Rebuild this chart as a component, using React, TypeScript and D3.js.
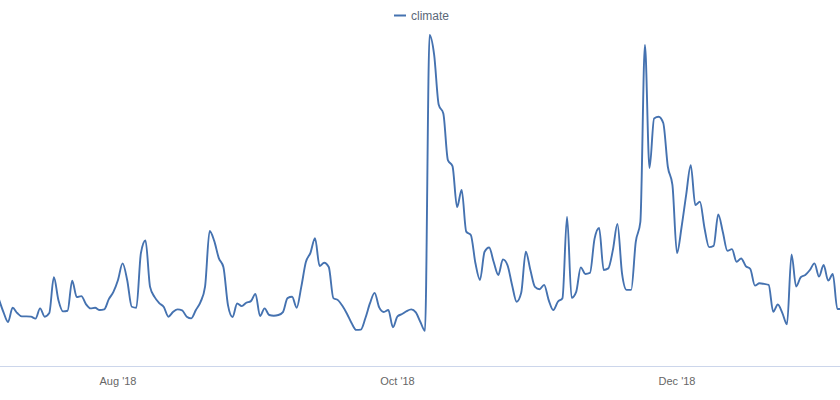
import React from "react";
import * as d3 from "d3";

const seriesName = "climate";
const startDate = "2018-07-06";
const values: number[] = [
  20.2, 16.3, 13.3, 17.6, 16.0, 15.0, 15.0, 14.9, 14.3, 17.4,
  14.9, 16.0, 26.8, 19.9, 16.5, 16.7, 25.8, 20.8, 21.1, 18.7,
  17.4, 17.6, 16.9, 17.1, 20.2, 22.4, 26.0, 31.0, 26.0, 17.9,
  17.6, 34.1, 37.9, 23.9, 20.8, 19.0, 17.8, 14.9, 16.3, 17.1,
  16.8, 14.9, 14.4, 16.9, 19.3, 24.0, 40.8, 37.8, 32.6, 29.9,
  18.4, 14.8, 18.9, 18.1, 19.1, 19.6, 21.8, 15.1, 17.4, 15.4,
  15.2, 15.4, 16.3, 20.5, 20.9, 17.6, 23.9, 31.4, 34.2, 38.6,
  30.2, 31.2, 29.9, 20.5, 19.9, 18.1, 15.7, 12.9, 10.9, 11.0,
  14.5, 19.0, 22.1, 17.7, 16.3, 16.9, 11.7, 15.0, 15.7, 16.6,
  17.1, 16.2, 13.3, 10.6, 100, 94.0, 78.9, 76.3, 62.2, 60.4,
  48.0, 53.2, 40.6, 39.6, 31.1, 26.0, 34.5, 35.8, 31.4, 27.5,
  32.2, 30.5, 24.5, 19.4, 22.1, 34.5, 29.0, 23.9, 23.2, 24.5,
  19.9, 16.9, 19.4, 20.5, 45.1, 20.6, 22.4, 29.8, 27.8, 28.1,
  38.4, 41.7, 29.0, 29.5, 35.0, 42.9, 28.0, 23.0, 23.0, 37.5,
  43.5, 97.0, 59.8, 74.8, 75.3, 73.4, 60.2, 54.7, 34.1, 42.0,
  51.7, 60.7, 48.6, 49.6, 41.7, 35.9, 36.3, 45.8, 40.5, 34.8,
  35.3, 31.5, 32.5, 30.2, 29.3, 24.3, 25.0, 24.8, 24.5, 16.4,
  18.6, 16.0, 12.6, 33.7, 24.0, 26.8, 27.5, 29.0, 31.0, 27.0,
  30.5, 25.8, 27.8, 17.2, 17.2,
];
const tickDates = ["2018-08-01", "2018-10-01", "2018-12-01"];
const tickLabels = ["Aug '18", "Oct '18", "Dec '18"];

const W = 840;
const H = 400;
const parse = d3.utcParse("%Y-%m-%d");

export default function App() {
  const start = parse(startDate) as Date;
  const data = values.map((v, i) => ({ date: d3.utcDay.offset(start, i), v }));
  const x = d3
    .scaleUtc()
    .domain([parse(tickDates[0]) as Date, parse(tickDates[2]) as Date])
    .range([118, 677]);
  const y = d3.scaleLinear().domain([0, 100]).range([366, 35]);
  const line = d3
    .line<{ date: Date; v: number }>()
    .x((d) => x(d.date))
    .y((d) => y(d.v))
    .curve(d3.curveMonotoneX);
  const font = "'Liberation Sans', Arial, sans-serif";
  return (
    <svg
      width={W}
      height={H}
      style={{ position: "absolute", left: 0, top: 0, background: "#fff" }}
    >
      <defs>
        <clipPath id="plot">
          <rect x={0} y={0} width={W} height={368} />
        </clipPath>
      </defs>
      <line x1={0} x2={W} y1={366.5} y2={366.5} stroke="#ccd6eb" strokeWidth={1} />
      {tickDates.map((t, i) => (
        <text
          key={t}
          x={x(parse(t) as Date)}
          y={385}
          textAnchor="middle"
          fontFamily={font}
          fontSize={11}
          fill="#666666"
        >
          {tickLabels[i]}
        </text>
      ))}
      <g clipPath="url(#plot)">
        <path
          d={line(data) || ""}
          fill="none"
          stroke="#4572b0"
          strokeWidth={1.9}
          strokeLinejoin="round"
          strokeLinecap="round"
        />
      </g>
      <g>
        <line x1={394} x2={406} y1={15.5} y2={15.5} stroke="#4572b0" strokeWidth={2} />
        <text x={411} y={19.5} fontFamily={font} fontSize={12} fill="#5b6878">
          {seriesName}
        </text>
      </g>
    </svg>
  );
}
